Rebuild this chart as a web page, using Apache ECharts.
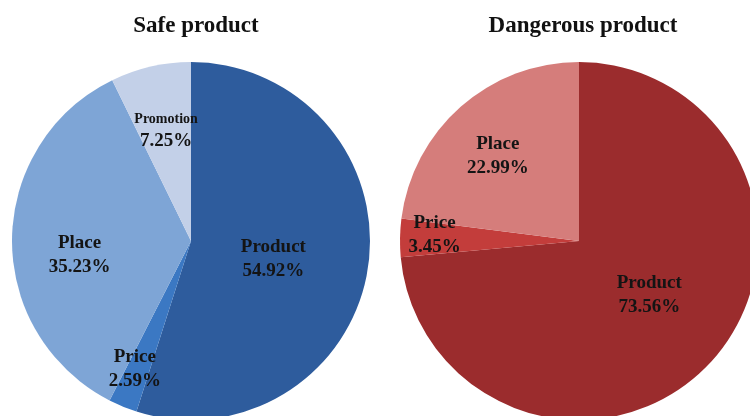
<!DOCTYPE html>
<html>
<head>
<meta charset="utf-8">
<script src="https://cdn.jsdelivr.net/npm/echarts@6/dist/echarts.min.js"></script>
<style>
html,body{margin:0;padding:0;background:#fff;}
#c{width:750px;height:416px;}
</style>
</head>
<body>
<div id="c"></div>
<script>
// ---- data ----
var safeTitle = 'Safe product';
var dangerTitle = 'Dangerous product';
var safeCategories = ['Product', 'Price', 'Place', 'Promotion'];
var safeValues = [54.92, 2.59, 35.23, 7.25];
var dangerCategories = ['Product', 'Price', 'Place'];
var dangerValues = [73.56, 3.45, 22.99];

// ---- style ----
var safeColors = ['#2E5C9D', '#3B78C3', '#7EA5D6', '#C3D0E8'];
var dangerColors = ['#9B2C2D', '#C33D3B', '#D57D7B'];
var safeOffsets = [[-9, 4], [-21, 43], [-19, 15], [-4, -19]];
var dangerOffsets = [[2, -8], [-52, -4], [-20, -16]];
var FONT = '"Liberation Serif","Times New Roman",serif';

function buildData(cats, vals, colors, offsets, smallNames) {
  return cats.map(function (name, i) {
    var small = smallNames.indexOf(name) >= 0;
    return {
      name: name,
      value: vals[i],
      itemStyle: { color: colors[i] },
      label: {
        offset: offsets[i],
        formatter: small ? '{s|{b}}\n{v|{c}%}' : '{n|{b}}\n{v|{c}%}'
      }
    };
  });
}

var labelBase = {
  show: true,
  position: 'inside',
  color: '#141414',
  fontFamily: FONT,
  fontWeight: 'bold',
  rich: {
    n: { fontFamily: FONT, fontWeight: 'bold', fontSize: 19, lineHeight: 24, color: '#141414', align: 'center' },
    s: { fontFamily: FONT, fontWeight: 'bold', fontSize: 14, lineHeight: 19, color: '#141414', align: 'center' },
    v: { fontFamily: FONT, fontWeight: 'bold', fontSize: 19, lineHeight: 24, color: '#141414', align: 'center' }
  }
};

var chart = echarts.init(document.getElementById('c'), null, { renderer: 'canvas' });
chart.setOption({
  animation: false,
  backgroundColor: '#ffffff',
  title: [
    { text: safeTitle, left: 191, top: 10, textAlign: 'center',
      textStyle: { fontFamily: FONT, fontWeight: 'bold', fontSize: 23, color: '#111' } },
    { text: dangerTitle, left: 578, top: 10, textAlign: 'center',
      textStyle: { fontFamily: FONT, fontWeight: 'bold', fontSize: 23, color: '#111' } }
  ],
  series: [
    {
      type: 'pie',
      center: [191, 241],
      radius: [0, 179],
      startAngle: 90,
      clockwise: true,
      avoidLabelOverlap: false,
      label: labelBase,
      labelLine: { show: false },
      itemStyle: { borderWidth: 0 },
      emphasis: { disabled: true },
      data: buildData(safeCategories, safeValues, safeColors, safeOffsets, ['Promotion'])
    },
    {
      type: 'pie',
      center: [579, 241],
      radius: [0, 179],
      startAngle: 90,
      clockwise: true,
      avoidLabelOverlap: false,
      label: labelBase,
      labelLine: { show: false },
      itemStyle: { borderWidth: 0 },
      emphasis: { disabled: true },
      data: buildData(dangerCategories, dangerValues, dangerColors, dangerOffsets, [])
    }
  ]
});
</script>
</body>
</html>
